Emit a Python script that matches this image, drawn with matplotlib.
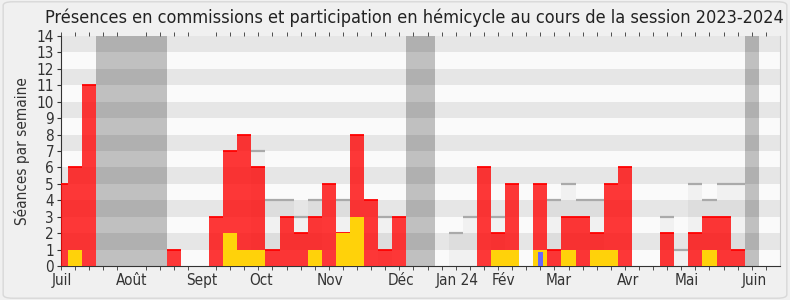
import matplotlib
matplotlib.use("Agg")
import matplotlib.pyplot as plt
from matplotlib.patches import FancyBboxPatch
from matplotlib import font_manager
import numpy as np

# ---- data (weekly, index 0 = first week of July 2023) ----
weeks = list(range(51))
commission = [5, 6, 11, 0, 0, 0, 0, 0, 1, 0, 0, 3, 7, 8, 6, 1, 3, 2, 3, 5,
              2, 8, 4, 1, 3, 0, 0, 0, 0, 0, 6, 2, 5, 0, 5, 1, 3, 3, 2, 5,
              6, 0, 0, 2, 0, 2, 3, 3, 1, 0, 0]
hemicycle = [0, 1, 0, 0, 0, 0, 0, 0, 0, 0, 0, 0, 2, 1, 1, 0, 0, 0, 1, 0,
             2, 3, 0, 0, 0, 0, 0, 0, 0, 0, 0, 1, 1, 0, 1, 0, 1, 0, 1, 1,
             0, 0, 0, 0, 0, 0, 1, 0, 0, 0, 0]
questions = [0] * 34 + [1] + [0] * 16
median = [0, 0, 0, 0, 0, 0, 0, 0, 0, 0, 0, 0, 0, 0, 7, 4, 4, 3, 4, 0,
          4, 0, 0, 3, 0, 0, 0, 0, 2, 3, 0, 3, 0, 0, 0, 4, 5, 4, 4, 0,
          0, 0, 0, 3, 1, 5, 4, 5, 5, 0, 0]
vacances = [3, 4, 5, 6, 7, 25, 26, 49]
month_labels = ["Juil", "Août", "Sept", "Oct", "Nov", "Déc", "Jan 24",
                "Fév", "Mar", "Avr", "Mai", "Juin"]
month_pos = [0.05, 5.0, 10.0, 14.2, 19.05, 24.1, 28.1, 31.4, 35.3, 40.2, 44.4, 49.2]
title = "Présences en commissions et participation en hémicycle au cours de la session 2023-2024"
ylabel = "Séances par semaine"

# use a condensed face if one is installed
stretch = 'normal'
for f in font_manager.fontManager.ttflist:
    if f.name == 'DejaVu Sans' and f.stretch in ('condensed', 'semi-condensed'):
        stretch = 'condensed'
        break
plt.rcParams['font.family'] = ['DejaVu Sans']
plt.rcParams['font.stretch'] = stretch

fig = plt.figure(figsize=(7.9, 3.0), dpi=100)
fig.patch.set_facecolor('#F0F0F0')
fig.patches.append(FancyBboxPatch((0.004, 0.006), 0.992, 0.988,
                                  boxstyle="round,pad=0,rounding_size=0.012",
                                  transform=fig.transFigure, facecolor='none',
                                  edgecolor='#D8D8D8', linewidth=1.0))
ax = fig.add_axes([0.0772, 0.1133, 0.9101, 0.7667])
ymax = 14
ax.set_xlim(0, 51)
ax.set_ylim(0, ymax)

# background stripes
for i in range(ymax):
    ax.axhspan(i, i + 1, color='#FAFAFA' if i % 2 == 0 else '#E6E6E6', lw=0, zorder=0)

w = np.array(weeks)
# vacation periods
ax.bar(vacances, [ymax] * len(vacances), width=1.0, color='black', alpha=0.23, lw=0, zorder=1)
# median of deputies
med = np.array(median)
ax.bar(w, med, width=1.0, color='black', alpha=0.035, lw=0, zorder=2)
mk = med > 0
ax.hlines(med[mk], w[mk] - 0.5, w[mk] + 0.5, color='#AAAAAA', lw=1.6, zorder=2.5)
# commission presence
com = np.array(commission)
ax.bar(w, com, width=1.0, color='#FF0000', alpha=0.78, lw=0, zorder=3)
ck = com > 0
ax.hlines(com[ck], w[ck] - 0.5, w[ck] + 0.5, color='#FF0000', lw=1.3, zorder=3.5)
# hemicycle participation
ax.bar(w, hemicycle, width=1.0, color='#FFD20A', lw=0, zorder=4)
# questions
q = np.array(questions, dtype=float)
ax.bar(w, q * 0.85, width=0.33, color='#6666FF', lw=0, zorder=5)

ax.set_yticks(range(ymax + 1))
ax.tick_params(axis='y', labelsize=11, colors='#333333', length=3, pad=2)
ax.set_xticks(month_pos)
ax.set_xticklabels(month_labels)
ax.tick_params(axis='x', which='major', length=0, labelsize=11, colors='#333333', pad=5)
ax.set_xticks(np.arange(0, 51), minor=True)
ax.tick_params(axis='x', which='minor', length=3, color='#333333', top=True, direction='out')
for lab in ax.get_yticklabels() + ax.get_xticklabels():
    lab.set_color('#333333')

ax.spines['top'].set_visible(False)
ax.spines['right'].set_color('#CCCCCC')
ax.spines['left'].set_color('#333333')
ax.spines['bottom'].set_color('#333333')

ax.set_ylabel(ylabel, fontsize=11, color='#333333', labelpad=5)
fig.text(0.524, 0.94, title, ha='center', va='center', fontsize=13, color='#222222')

fig.savefig('out.png', dpi=100, facecolor=fig.get_facecolor())
